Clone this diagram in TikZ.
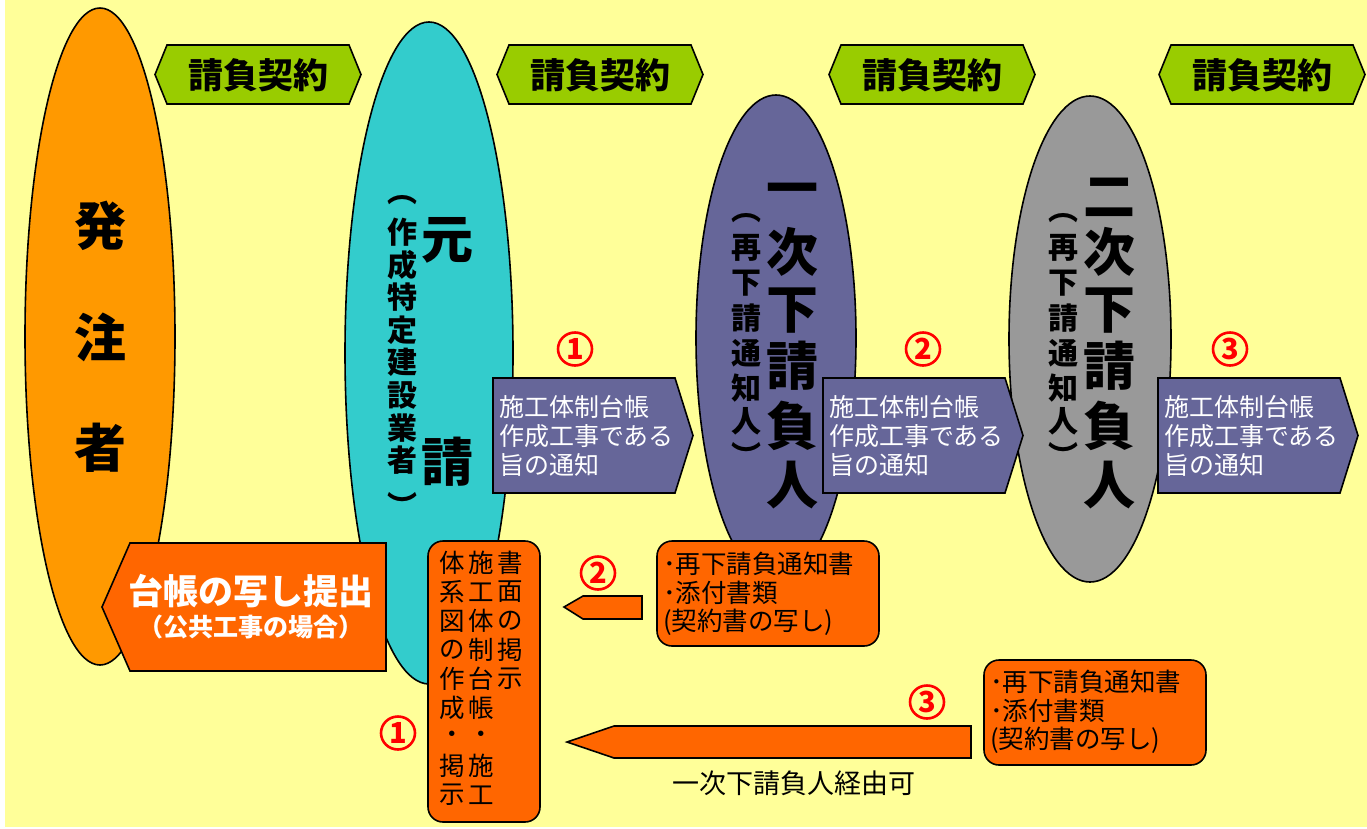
\documentclass[tikz,border=0pt]{standalone}
\usepackage{fontspec}
\usetikzlibrary{shapes.geometric}
\setmainfont{Noto Sans CJK JP}
\definecolor{bgY}{HTML}{FFFF99}
\definecolor{orgA}{HTML}{FF9900}
\definecolor{cyanA}{HTML}{33CCCC}
\definecolor{purA}{HTML}{666699}
\definecolor{grayA}{HTML}{999999}
\definecolor{grnA}{HTML}{99CC00}
\definecolor{redO}{HTML}{FF6600}
\definecolor{redN}{HTML}{FF0000}
\begin{document}
\begin{tikzpicture}[x=1pt,y=-1pt,
  ol/.style={draw=black,line width=1.6pt,line join=miter},
  hexbox/.style={ol,fill=grnA},
  purbox/.style={ol,fill=purA},
  orbox/.style={ol,fill=redO},
  t/.style={inner sep=0pt,outer sep=0pt},
  big/.style={t,font=\bfseries\fontsize{52}{52}\selectfont},
  small/.style={t,font=\bfseries\fontsize{30}{30}\selectfont},
  contract/.style={t,font=\bfseries\fontsize{35}{35}\selectfont},
  notice/.style={t,text=white,align=left,font=\fontsize{25}{29}\selectfont},
  docs/.style={t,align=left,font=\fontsize{25.5}{28.5}\selectfont},
  vch/.style={t,font=\fontsize{25.5}{25.5}\selectfont},
  num/.style={ellipse,draw=redN,line width=2.6pt,inner sep=0pt,minimum width=34pt,minimum height=33pt,
    text=redN,font=\bfseries\fontsize{29}{29}\selectfont},
]
\useasboundingbox (0,0) rectangle (1367,828);
\fill[white] (0,0) rectangle (1367,828);
\fill[bgY] (5,0) rectangle (1367,827);

% contract hexagons
\foreach \cx [count=\i] in {258,600,932,1262}{
  \draw[hexbox] (\cx-103,74.5) -- (\cx-91,45) -- (\cx+91,45) -- (\cx+103,74.5)
    -- (\cx+91,104) -- (\cx-91,104) -- cycle;
  \node[contract] (contract\i) at (\cx,75) {請負契約};
}

% parties (ellipses)
\draw[ol,fill=orgA]  (100,336.5) ellipse [x radius=75pt,y radius=328.5pt];
\draw[ol,fill=cyanA] (429,353) ellipse [x radius=84pt,y radius=331pt];
\draw[ol,fill=purA]  (776,338) ellipse [x radius=80pt,y radius=243pt];
\draw[ol,fill=grayA] (1090,339) ellipse [x radius=81pt,y radius=243pt];

% 発注者
\foreach \yy/\c [count=\i] in {226/発,337/注,448/者}
  \node[big] (owner\i) at (100,\yy) {\c};
% 元請
\node[big] (prime1) at (447,240) {元};
\node[big] (prime2) at (447,462) {請};
\foreach \yy/\c [count=\i] in {200/︵,232/作,265/成,297/特,330/定,362/建,395/設,428/業,460/者,505/︶}
  \node[small] (primesub\i) at (402,\yy) {\c};
% 一次下請負人
\foreach \yy/\c [count=\i] in {195/一,252/次,311/下,366/請,426/負,485/人}
  \node[big] (firstsub\i) at (792,\yy) {\c};
\foreach \yy/\c [count=\i] in {218/︵,248/再,283/下,318/請,353/通,388/知,421/人,455/︶}
  \node[small] (firstnote\i) at (746,\yy) {\c};
% 二次下請負人
\foreach \yy/\c [count=\i] in {197/二,252/次,311/下,366/請,426/負,485/人}
  \node[big] (secsub\i) at (1109,\yy) {\c};
\foreach \yy/\c [count=\i] in {218/︵,248/再,283/下,318/請,353/通,388/知,421/人,455/︶}
  \node[small] (secnote\i) at (1063,\yy) {\c};

% notice arrows (purple)
\foreach \L [count=\i] in {493,823,1158}{
  \draw[purbox] (\L,378) -- (\L+182,378) -- (\L+200,435.5) -- (\L+182,493) -- (\L,493) -- cycle;
  \node[notice,anchor=west] (notice\i) at (\L+6,436) {施工体制台帳\\作成工事である\\旨の通知};
}
\node[num] (n1) at (575,349) {1};
\node[num] (n2) at (923,349) {2};
\node[num] (n3) at (1230,349) {3};

% 台帳の写し提出
\draw[orbox] (102,607) -- (130,543) -- (386,543) -- (386,671) -- (130,671) -- cycle;
\node[t,text=white,font=\bfseries\fontsize{35}{35}\selectfont] (ledger) at (251,591) {台帳の写し提出};
\node[t,text=white,font=\bfseries\fontsize{25}{25}\selectfont] (ledgersub) at (251,627) {（公共工事の場合）};

% 書面の掲示 box
\draw[orbox,rounded corners=15pt] (428,541) rectangle (540,822);
\foreach \c [count=\i from 0] in {書,面,の,掲,示}
  \node[vch] (postR\i) at (510,563+29*\i) {\c};
\foreach \c [count=\i from 0] in {施,工,体,制,台,帳,・,施,工}
  \node[vch] (postM\i) at (481,563+29*\i) {\c};
\foreach \c [count=\i from 0] in {体,系,図,の,作,成,・,掲,示}
  \node[vch] (postL\i) at (452,563+29*\i) {\c};
\node[num] (n1b) at (398,733) {1};

% documents from first-tier subcontractor
\draw[orbox,rounded corners=15pt] (657,541) rectangle (879,646);
\node[docs,anchor=west] (docs2) at (663,594) {･再下請負通知書\\･添付書類\\(契約書の写し)};
\draw[orbox] (564,607) -- (583,596) -- (642,596) -- (642,619) -- (583,619) -- cycle;
\node[num] (n2b) at (598,573) {2};

% documents from second-tier subcontractor
\draw[orbox,rounded corners=15pt] (984,660) rectangle (1206,765);
\node[docs,anchor=west] (docs3) at (990,712) {･再下請負通知書\\･添付書類\\(契約書の写し)};
\draw[orbox] (567,742) -- (614,726) -- (971,726) -- (971,758) -- (614,758) -- cycle;
\node[num] (n3b) at (927,702) {3};
\node[t,font=\fontsize{27}{27}\selectfont] (via) at (794,783) {一次下請負人経由可};
\end{tikzpicture}
\end{document}
